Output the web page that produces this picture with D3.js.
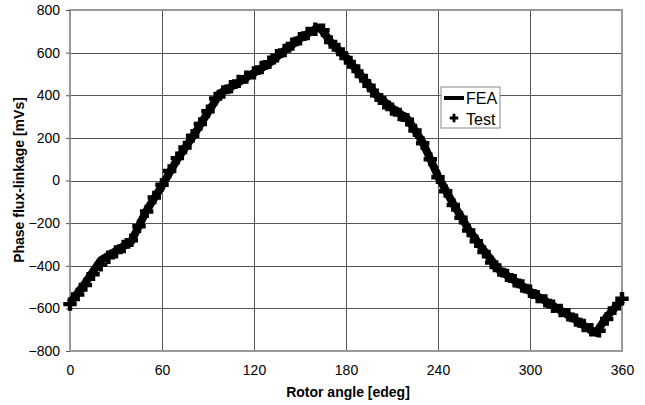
<!DOCTYPE html>
<html>
<head>
<meta charset="utf-8">
<script src="https://cdn.jsdelivr.net/npm/d3@7"></script>
<style>
  body { margin: 0; background: #fff; }
  svg text { font-family: "Liberation Sans", Arial, sans-serif; }
</style>
</head>
<body>
<div id="chart"></div>
<script>
// FEA curve (rotor angle in edeg, flux-linkage in mVs)
const feaAngle = [0, 10, 20, 30, 40, 50, 60, 70, 80, 90, 98, 110, 120, 130, 140, 150, 160, 163,
  170, 180, 190, 200, 210, 220, 230, 240, 250, 260, 270, 280, 290, 300, 310, 320, 330, 340, 343, 350, 360];
const feaFlux = [-575, -480, -375, -330, -285, -140, -25, 100, 205, 320, 410, 460, 505, 550, 610, 665, 712, 718,
  650, 578, 490, 400, 340, 290, 180, 20, -110, -230, -330, -420, -470, -520, -565, -610, -655, -705, -715, -640, -560];

// Test measurements
const testAngle = d3.range(0, 361, 5);
const testFlux = [-580, -535, -490, -440, -395, -360, -335, -310, -280, -215, -145, -80, -20, 45, 105, 155,
  210, 265, 325, 385, 415, 440, 465, 485, 505, 530, 555, 585, 610, 640, 665, 690, 710, 705, 650, 615,
  575, 535, 490, 445, 400, 365, 335, 310, 285, 235, 175, 100, 15, -50, -115, -175, -235, -285, -335, -385,
  -420, -445, -470, -495, -520, -545, -565, -590, -610, -630, -655, -680, -700, -705, -650, -600, -555];

const xTicks = [0, 60, 120, 180, 240, 300, 360];
const yTicks = [-800, -600, -400, -200, 0, 200, 400, 600, 800];

const W = 645, H = 405;
const pLeft = 70, pRight = 622, pTop = 10, pBottom = 351;

const svg = d3.select("#chart").append("svg")
    .attr("width", W)
    .attr("height", H);

const x = d3.scaleLinear().domain([0, 360]).range([pLeft, pRight]);
const y = d3.scaleLinear().domain([-800, 800]).range([pBottom, pTop]);

// grid
svg.append("g")
    .selectAll("line")
    .data(xTicks.slice(1, -1))
    .enter()
    .append("line")
    .attr("x1", d => Math.round(x(d)) + 0.5)
    .attr("x2", d => Math.round(x(d)) + 0.5)
    .attr("y1", pTop)
    .attr("y2", pBottom)
    .attr("stroke", "#555");

svg.append("g")
    .selectAll("line")
    .data(yTicks.slice(1, -1))
    .enter()
    .append("line")
    .attr("x1", pLeft)
    .attr("x2", pRight)
    .attr("y1", d => Math.round(y(d)) + 0.5)
    .attr("y2", d => Math.round(y(d)) + 0.5)
    .attr("stroke", "#555");

// plot border
svg.append("rect")
    .attr("x", pLeft)
    .attr("y", pTop)
    .attr("width", pRight - pLeft)
    .attr("height", pBottom - pTop)
    .attr("fill", "none")
    .attr("stroke", "#999")
    .attr("stroke-width", 2);

// axes
const yAxis = svg.append("g")
    .attr("transform", `translate(${pLeft},0)`)
    .call(d3.axisLeft(y).tickValues(yTicks).tickSize(4).tickPadding(6));
yAxis.select(".domain").remove();
yAxis.selectAll("line").attr("stroke", "#555");
yAxis.selectAll("text").attr("font-size", 14).attr("fill", "#000")
    .attr("font-family", "'Liberation Sans', Arial, sans-serif");

const xAxis = svg.append("g")
    .attr("transform", `translate(0,${pBottom})`)
    .call(d3.axisBottom(x).tickValues(xTicks).tickSize(0).tickPadding(14));
xAxis.select(".domain").remove();
xAxis.selectAll("text").attr("font-size", 14).attr("fill", "#000")
    .attr("font-family", "'Liberation Sans', Arial, sans-serif");

// titles
svg.append("text")
    .attr("x", 348)
    .attr("y", 397)
    .attr("text-anchor", "middle")
    .attr("font-size", 14)
    .attr("font-weight", "bold")
    .text("Rotor angle [edeg]");

svg.append("text")
    .attr("transform", "translate(24,180) rotate(-90)")
    .attr("text-anchor", "middle")
    .attr("font-size", 14)
    .attr("font-weight", "bold")
    .text("Phase flux-linkage [mVs]");

// FEA line
const line = d3.line()
    .x((d, i) => x(feaAngle[i]))
    .y(d => y(d));

svg.append("path")
    .datum(feaFlux)
    .attr("d", line)
    .attr("fill", "none")
    .attr("stroke", "#000")
    .attr("stroke-width", 8)
    .attr("stroke-linejoin", "round");

// Test markers
const plus = d3.symbol().type(d3.symbolCross).size(100);
svg.append("g")
    .selectAll("path")
    .data(testFlux)
    .enter()
    .append("path")
    .attr("d", plus)
    .attr("transform", (d, i) => `translate(${x(testAngle[i])},${y(d)})`)
    .attr("fill", "#000");

// legend
const lg = svg.append("g").attr("transform", "translate(441,87)");
lg.append("rect")
    .attr("width", 59)
    .attr("height", 41)
    .attr("fill", "#fff")
    .attr("stroke", "#888");
lg.append("line")
    .attr("x1", 3).attr("x2", 23)
    .attr("y1", 11).attr("y2", 11)
    .attr("stroke", "#000")
    .attr("stroke-width", 4);
lg.append("text")
    .attr("x", 25).attr("y", 17)
    .attr("font-size", 16)
    .text("FEA");
lg.append("path")
    .attr("d", d3.symbol().type(d3.symbolCross).size(40))
    .attr("transform", "translate(13,31)");
lg.append("text")
    .attr("x", 25).attr("y", 38)
    .attr("font-size", 16)
    .text("Test");
</script>
</body>
</html>
